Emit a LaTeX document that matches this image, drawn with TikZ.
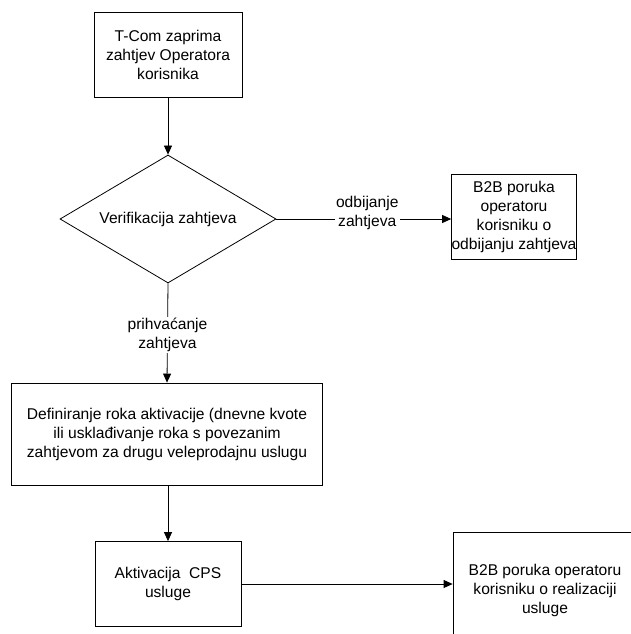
\documentclass[tikz,border=0pt]{standalone}
\usepackage{fontspec}
\setmainfont{Liberation Sans}
\usetikzlibrary{shapes.geometric,arrows.meta}

\tikzset{
  stepbox/.style={draw, line width=0.8pt, align=center, inner sep=0pt},
  decision/.style={draw, diamond, line width=0.8pt, inner sep=0pt, aspect=1.7},
  flow/.style={line width=0.8pt, -{Triangle[length=9pt,width=8pt]}},
  edgelabel/.style={fill=white, align=center, inner sep=1pt}
}

\begin{document}
\begin{tikzpicture}[x=1pt, y=-1pt, font=\fontsize{15.6}{19}\selectfont]
\clip (0,0) rectangle (631,634);
\fill[white] (0,0) rectangle (631,634);

\node[stepbox, minimum width=148pt, minimum height=85pt] (request) at (168,55)
      {T-Com zaprima\\zahtjev Operatora\\korisnika};
\node[decision, minimum width=216pt, minimum height=128pt] (verify) at (168,219)
      {Verifikacija zahtjeva};
\node[stepbox, minimum width=122pt, minimum height=85pt] (reject) at (514,217)
      {B2B poruka\\operatoru\\korisniku o\\odbijanju zahtjeva};
\node[stepbox, minimum width=311pt, minimum height=102pt] (deadline) at (167,434)
      {Definiranje roka aktivacije (dnevne kvote\\ili usklađivanje roka s povezanim\\zahtjevom za drugu veleprodajnu uslugu};
\node[stepbox, minimum width=146pt, minimum height=85pt] (activate) at (168,584)
      {Aktivacija~~CPS\\usluge};
\node[stepbox, minimum width=184pt, minimum height=116pt] (done) at (545,590)
      {B2B poruka operatoru\\korisniku o realizaciji\\usluge};

% connectors
\draw[flow] (request) -- (verify);
\draw[flow] (verify.east) -- (reject.west |- verify.east)
      node[edgelabel, pos=0.52, yshift=6pt] (nolbl) {odbijanje\\zahtjeva};
\draw[flow] (verify.south) -- (deadline.north)
      node[edgelabel, pos=0.52] (yeslbl) {prihvaćanje\\zahtjeva};
\draw[flow] (deadline.south -| activate.north) -- (activate.north);
\draw[flow] (activate.east) -- (activate.east -| done.west);
\end{tikzpicture}
\end{document}
